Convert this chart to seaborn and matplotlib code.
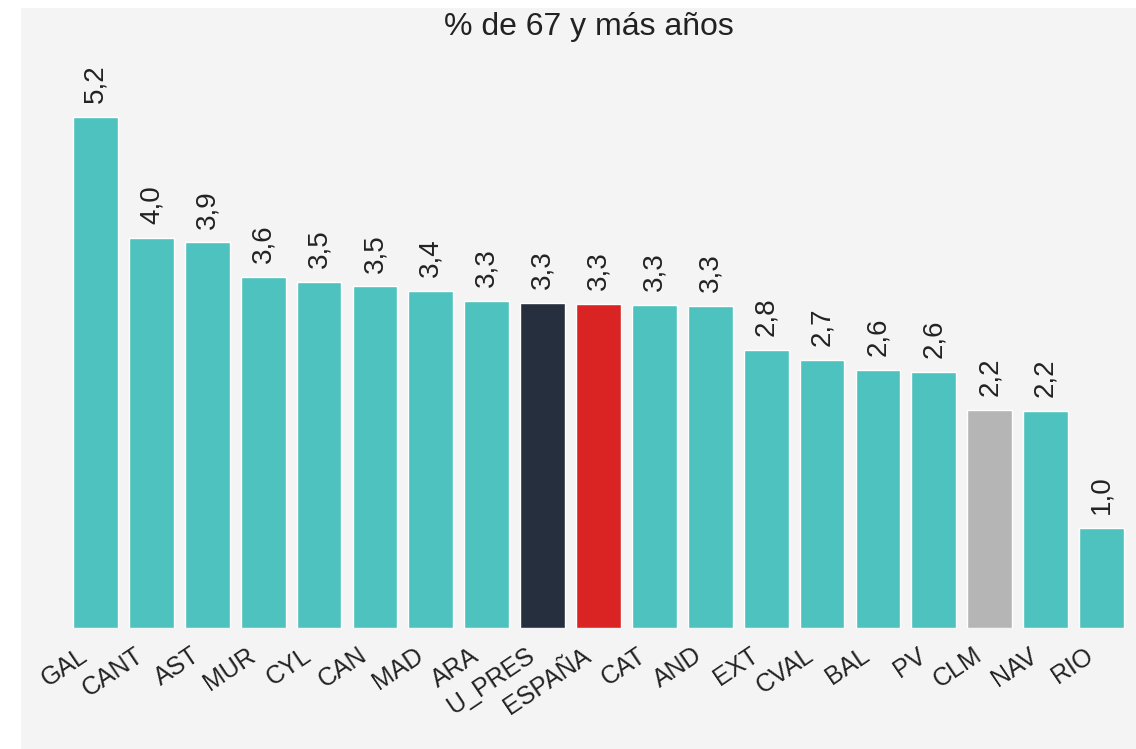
import matplotlib
matplotlib.use("Agg")
import matplotlib.pyplot as plt
import matplotlib.transforms as mtransforms
from matplotlib.patches import Rectangle
import seaborn as sns

# data
regions = ['GAL', 'CANT', 'AST', 'MUR', 'CYL', 'CAN', 'MAD', 'ARA', 'U_PRES', 'ESPAÑA',
           'CAT', 'AND', 'EXT', 'CVAL', 'BAL', 'PV', 'CLM', 'NAV', 'RIO']
values = [5.22, 3.99, 3.94, 3.59, 3.54, 3.49, 3.44, 3.34, 3.32, 3.31,
          3.30, 3.29, 2.84, 2.74, 2.64, 2.62, 2.23, 2.22, 1.02]
title = '% de 67 y más años'

TEAL = '#4EC2BE'
special = {'U_PRES': '#262F3E', 'ESPAÑA': '#DA2323', 'CLM': '#B5B5B5'}
colors = [special.get(r, TEAL) for r in regions]
BG = '#F4F4F4'
TXT = '#222222'

sns.set_theme(style='white')
plt.rcParams['font.family'] = ['Liberation Sans', 'DejaVu Sans']
plt.rcParams['text.color'] = TXT

fig = plt.figure(figsize=(11.36, 7.49), dpi=100)
fig.patch.set_facecolor('white')
fig.patches.append(Rectangle((21 / 1136, 0), 1, 1 - 7.5 / 749, transform=fig.transFigure,
                             facecolor=BG, edgecolor='none', zorder=-10))

ax = fig.add_axes([0.0595, 0.1615, 0.9347, 0.784])
ax.set_facecolor('none')

sns.barplot(x=regions, y=values, hue=regions, palette=colors, legend=False,
            width=0.8, saturation=1, ax=ax)

for cont in ax.containers:
    ax.bar_label(cont, labels=[f"{b.get_height():.1f}".replace('.', ',') for b in cont],
                 rotation=90, padding=10, fontsize=20, color=TXT)

ax.set_xlim(-0.5, len(regions) - 0.5)
ax.set_ylim(0, 6)
ax.set_xlabel('')
ax.set_ylabel('')
ax.set_yticks([])
sns.despine(ax=ax, left=True, bottom=True)
ax.tick_params(axis='x', length=0, pad=11)

# shift tick labels to the left, like the original
shift = mtransforms.ScaledTranslation(-17 / 100, 0, fig.dpi_scale_trans)
for lab in ax.get_xticklabels():
    lab.set_rotation(34)
    lab.set_ha('right')
    lab.set_va('top')
    lab.set_rotation_mode('anchor')
    lab.set_fontsize(18)
    lab.set_color(TXT)
    lab.set_transform(lab.get_transform() + shift)

fig.text(589 / 1136, 1 - 35 / 749, title, ha='center', va='baseline', fontsize=23,
         color=TXT)

fig.savefig('out.png', dpi=100, facecolor=fig.get_facecolor())
